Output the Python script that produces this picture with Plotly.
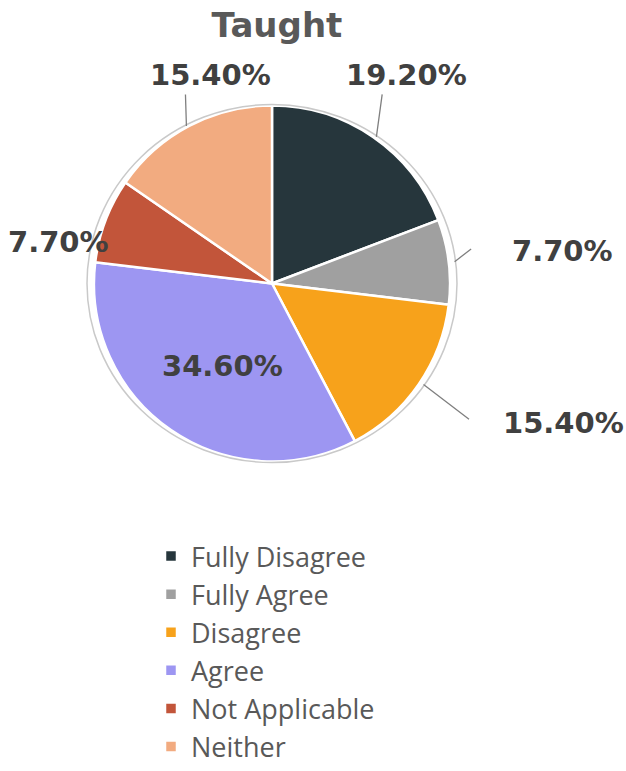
import math
import plotly.graph_objects as go

# ---- data ----
categories = ["Fully Disagree", "Fully Agree", "Disagree", "Agree", "Not Applicable", "Neither"]
values = [19.2, 7.7, 15.4, 34.6, 7.7, 15.4]
colors = ["#26363c", "#a0a0a0", "#f7a21b", "#9d96f2", "#c2553a", "#f2ab80"]
title_text = "Taught"

# ---- layout constants (pixels) ----
W, H = 626, 771
CX, CY, R = 272, 293, 184
# label offsets from pie centre (px) and leader-line offsets from slice edge (px)
label_offsets = [(135, -215), (290, -34), (291, 144), (-50, 85), (-214, -43), (-62, -215)]
leader = [(6, -44), (18, -14), (47, 36), None, None, (-1, -33)]

def px(x):
    return x / W

def py(y):
    return 1 - y / H

fig = go.Figure(go.Pie(
    labels=categories,
    values=values,
    sort=False,
    direction="clockwise",
    rotation=0,
    textinfo="none",
    hoverinfo="label+percent",
    marker=dict(colors=colors, line=dict(color="white", width=2.5)),
    domain=dict(x=[px(CX - R), px(CX + R)], y=[py(CY + R), py(CY - R)]),
))

annotations = []
total = sum(values)
cum = 0.0
for i, v in enumerate(values):
    mid = (cum + v / 2) / total * 2 * math.pi
    cum += v
    ex = CX + R * math.sin(mid)
    ey = CY - R * math.cos(mid)
    dx, dy = label_offsets[i]
    annotations.append(dict(
        x=px(CX + dx), y=py(CY + dy), xref="paper", yref="paper",
        text=f"<b>{v:.2f}%</b>", showarrow=False, xanchor="center", yanchor="middle",
        font=dict(family="DejaVu Sans", size=29, color="#404040"),
    ))
    if leader[i] is not None:
        ax, ay = leader[i]
        annotations.append(dict(
            x=px(ex), y=py(ey), xref="paper", yref="paper", text="",
            showarrow=True, arrowhead=0, arrowwidth=1.3, arrowcolor="#7f7f7f",
            ax=ax, ay=ay, standoff=0, startstandoff=0,
        ))

fig.update_layout(
    width=W, height=H, autosize=False,
    margin=dict(l=0, r=0, t=0, b=0),
    paper_bgcolor="white", plot_bgcolor="white",
    title=dict(text=f"<b>{title_text}</b>", x=px(277), y=py(25), xanchor="center", yanchor="middle",
               font=dict(family="DejaVu Sans", size=34, color="#595959")),
    showlegend=True,
    legend=dict(x=px(151), y=py(550), xanchor="left", yanchor="top",
                font=dict(family="Open Sans", size=27, color="#595959"),
                bgcolor="rgba(0,0,0,0)", traceorder="normal"),
    annotations=annotations,
    shapes=[dict(type="circle", xref="paper", yref="paper",
                 x0=px(CX - R - 1), x1=px(CX + R + 1), y0=py(CY + R + 1), y1=py(CY - R - 1),
                 line=dict(color="#c9c9c9", width=1.5), layer="above")],
)

fig.write_html("out.html", config={"displayModeBar": False},
               post_script="document.body.style.margin='0';")
